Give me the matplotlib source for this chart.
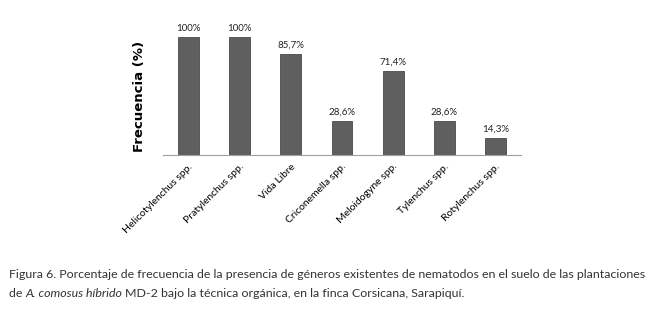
import matplotlib.pyplot as plt

categories = ["Helicotylenchus spp.", "Pratylenchus spp.", "Vida Libre", "Criconemella spp.",
              "Meloidogyne spp.", "Tylenchus spp.", "Rotylenchus spp."]
values = [100, 100, 85.7, 28.6, 71.4, 28.6, 14.3]
labels = ["100%", "100%", "85,7%", "28,6%", "71,4%", "28,6%", "14,3%"]

W, H = 652, 318
fig = plt.figure(figsize=(W / 100, H / 100), dpi=100)
ax = fig.add_axes([163 / W, 1 - 155 / H, (521 - 163) / W, (155 - 37) / H])

x = range(len(categories))
bars = ax.bar(x, values, width=0.41, color="#5f5f5f", edgecolor="#4a4a4a", linewidth=0.6)
for b, lab in zip(bars, labels):
    ax.text(b.get_x() + b.get_width() / 2, b.get_height() + 3.5, lab, ha="center", va="bottom",
            fontsize=7, family="Lato", color="#222222", clip_on=False)

ax.set_xlim(-0.5, len(categories) - 0.5)
ax.set_ylim(0, 100)
ax.set_xticks(list(x))
ax.set_xticklabels(categories, rotation=45, ha="right", rotation_mode="anchor", fontsize=7.5, family="Lato")
ax.tick_params(axis="x", length=0, pad=5)
ax.set_yticks([])
for s in ["top", "right", "left"]:
    ax.spines[s].set_visible(False)
ax.spines["bottom"].set_color("#a0a0a0")
ax.set_ylabel("Frecuencia (%)", fontsize=9.5, fontweight="bold", labelpad=12)

# caption
fs = 8.9
t1 = fig.text(9 / W, 1 - 275 / H, "Figura 6. Porcentaje de frecuencia de la presencia de géneros existentes de nematodos en el suelo de las plantaciones",
              fontsize=fs, family="Lato", color="#333333", va="center")
t2 = fig.text(9 / W, 1 - 297 / H, "de ", fontsize=fs, family="Lato", color="#333333", va="baseline")
t3 = fig.text(0, 0, "A. comosus híbrido ", fontsize=fs, family="Lato", style="italic", color="#333333",
              va="baseline")
t4 = fig.text(0, 0, "MD-2 bajo la técnica orgánica, en la finca Corsicana, Sarapiquí.", fontsize=fs,
              family="Lato", color="#333333", va="baseline")
fig.canvas.draw()
r = fig.canvas.get_renderer()
bb2 = t2.get_window_extent(r)
t3.set_position((bb2.x1 / fig.bbox.width, t2.get_position()[1]))
fig.canvas.draw()
bb3 = t3.get_window_extent(r)
t4.set_position((bb3.x1 / fig.bbox.width, t2.get_position()[1]))

fig.savefig("out.png", dpi=100)
